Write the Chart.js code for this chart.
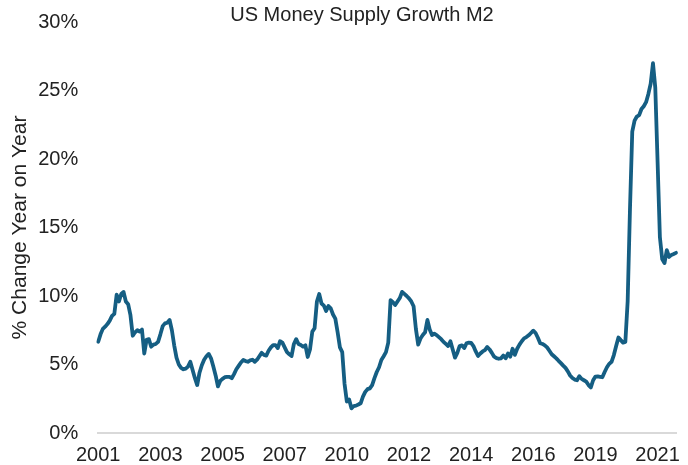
<!DOCTYPE html>
<html>
<head>
<meta charset="utf-8">
<script src="https://cdn.jsdelivr.net/npm/chart.js@4.4.1/dist/chart.umd.min.js"></script>
<style>
  body { margin: 0; background: #fff; }
  #wrap { width: 688px; height: 465px; }
</style>
</head>
<body>
<div id="wrap"><canvas id="m2chart"></canvas></div>
<script>
// Monthly M2 growth, Jan 2001 .. Dec 2021 (% change year on year)
var m2Growth = [
    6.66, 7.2, 7.6, 7.76, 7.95, 8.2, 8.55, 8.7, 10.1, 9.6,
    10.15, 10.3, 9.6, 9.4, 8.6, 7.1, 7.35, 7.5, 7.4, 7.55,
    5.8, 6.8, 6.85, 6.3, 6.45, 6.5, 6.65, 7.2, 7.8, 8.0,
    8.05, 8.25, 7.5, 6.4, 5.5, 5.0, 4.75, 4.65, 4.7, 4.85,
    5.2, 4.6, 4.0, 3.5, 4.4, 4.95, 5.35, 5.6, 5.77, 5.45,
    4.85, 4.2, 3.4, 3.8, 3.95, 4.07, 4.1, 4.1, 4.0, 4.3,
    4.65, 4.9, 5.15, 5.33, 5.25, 5.2, 5.3, 5.35, 5.2, 5.35,
    5.6, 5.85, 5.7, 5.65, 6.0, 6.25, 6.42, 6.42, 6.2, 6.7,
    6.6, 6.25, 5.9, 5.75, 5.62, 6.5, 6.85, 6.5, 6.42, 6.3,
    6.4, 5.55, 6.1, 7.4, 7.65, 9.6, 10.15, 9.45, 9.3, 8.9,
    9.27, 9.1, 8.65, 8.35, 7.35, 6.25, 5.9, 3.6, 2.3, 2.45,
    1.8, 1.97, 2.0, 2.08, 2.17, 2.65, 3.0, 3.2, 3.26, 3.5,
    4.0, 4.45, 4.8, 5.33, 5.6, 5.9, 6.6, 9.7, 9.55, 9.34,
    9.6, 9.85, 10.3, 10.15, 10.0, 9.83, 9.6, 9.25, 7.6, 6.45,
    6.9, 7.15, 7.35, 8.25, 7.55, 7.15, 7.25, 7.15, 7.0, 6.85,
    6.65, 6.5, 6.35, 6.7, 6.1, 5.5, 5.85, 6.35, 6.4, 6.2,
    6.55, 6.6, 6.58, 6.35, 5.95, 5.62, 5.8, 5.95, 6.05, 6.28,
    6.1, 5.85, 5.57, 5.47, 5.42, 5.45, 5.65, 5.45, 5.8, 5.57,
    6.15, 5.7, 6.15, 6.45, 6.7, 6.91, 7.0, 7.13, 7.3, 7.47,
    7.3, 6.95, 6.55, 6.5, 6.4, 6.25, 6.0, 5.75, 5.6, 5.45,
    5.27, 5.1, 4.92, 4.75, 4.5, 4.2, 4.02, 3.9, 3.85, 4.15,
    3.95, 3.85, 3.75, 3.5, 3.33, 3.85, 4.12, 4.13, 4.1, 4.07,
    4.45, 4.8, 5.05, 5.2, 5.69, 6.35, 6.97, 6.78, 6.6, 6.65,
    9.6, 16.3, 22.0, 22.8, 23.1, 23.2, 23.65, 23.85, 24.15, 24.75,
    25.5, 27.0, 25.2, 19.8, 14.3, 12.7, 12.4, 13.35, 12.85, 13.0,
    13.07, 13.15
];

// x axis labels, one every 27 months like the original
var tickYears = ["2001", "2003", "2005", "2007", "2010", "2012", "2014", "2016", "2019", "2021"];
var tickEvery = 27;
var startYear = 2001;

var months = [];
for (var i = 0; i < m2Growth.length; i++) {
    var y = startYear + Math.floor(i / 12);
    var m = String(i % 12 + 1).padStart(2, '0');
    months.push(y + "-" + m);
}

var textColor = "#222222";
var fontFamily = "'Liberation Sans', Arial, sans-serif";

// Title is centred over the axis labels + plot, not the whole canvas
var nudgeTitle = {
    id: 'nudgeTitle',
    afterLayout: function(chart) {
        var t = chart.titleBlock;
        t.left += 42;
        t.top += 3;
        t.bottom += 3;
    }
};

var ctx = document.getElementById('m2chart');
var m2chart = new Chart(ctx, {
    type: "line",
    data: {
        labels: months,
        datasets: [{
            label: "M2 growth",
            data: m2Growth,
            borderColor: "#155e83",
            borderWidth: 3.8,
            pointRadius: 0,
            tension: 0,
            fill: false,
            borderJoinStyle: "round",
            borderCapStyle: "round"
        }]
    },
    options: {
        responsive: true,
        maintainAspectRatio: false,
        animation: false,
        devicePixelRatio: 1,
        // negative bottom lets the x labels sit lower without shrinking the plot
        layout: { padding: { left: 0, right: 6, top: 0, bottom: -12 } },
        plugins: {
            legend: { display: false },
            tooltip: { enabled: false },
            title: {
                display: true,
                text: "US Money Supply Growth M2",
                color: textColor,
                font: { family: fontFamily, size: 20, weight: "normal", lineHeight: 1 },
                padding: { top: 2, bottom: 0 }
            }
        },
        scales: {
            x: {
                type: "category",
                grid: { display: false, drawTicks: false },
                border: { display: true, color: "#d9d9d9", width: 2 },
                ticks: {
                    autoSkip: false,
                    maxRotation: 0,
                    minRotation: 0,
                    padding: 12,
                    color: textColor,
                    font: { family: fontFamily, size: 20, lineHeight: 1 },
                    callback: function(val, idx) {
                        if (idx % tickEvery === 0 && tickYears[idx / tickEvery]) {
                            return tickYears[idx / tickEvery];
                        }
                        return "";
                    }
                }
            },
            y: {
                min: 0,
                max: 30,
                grid: { display: false, drawTicks: false },
                border: { display: false },
                ticks: {
                    stepSize: 5,
                    padding: 20,
                    color: textColor,
                    // tiny lineHeight so the top label doesn't push the plot down
                    font: { family: fontFamily, size: 20, lineHeight: 0.1 },
                    callback: function(v) { return v + "%"; }
                },
                title: {
                    display: true,
                    text: "% Change Year on Year",
                    color: textColor,
                    font: { family: fontFamily, size: 21, lineHeight: 1.2 },
                    padding: { top: 8, bottom: -15 }
                }
            }
        }
    },
    plugins: [nudgeTitle]
});
</script>
</body>
</html>
